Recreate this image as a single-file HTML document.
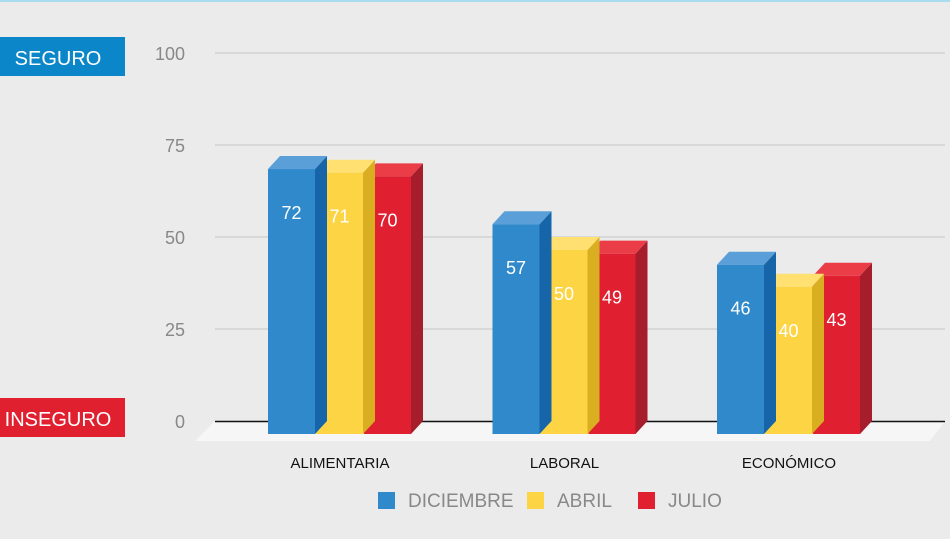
<!DOCTYPE html>
<html><head><meta charset="utf-8"><style>
body{margin:0;width:950px;height:534px;background:#ebebeb;overflow:hidden;font-family:"Liberation Sans",sans-serif}
</style></head><body>
<svg width="950" height="534">
<rect x="0" y="0" width="950" height="2" fill="#a8dcef"/>
<g id="grid"></g>
<polygon points="215,421 945,421 930,441 195,441" fill="#f6f6f6"/>
<line x1="215" y1="421.5" x2="945" y2="421.5" stroke="#111" stroke-width="1.5"/>
<g id="bars"></g>
<g id="cats"></g>
<rect x="0" y="37" width="125" height="39" fill="#0a86c9"/>
<text x="58" y="65" font-size="20" fill="#fff" text-anchor="middle" font-family="Liberation Sans Narrow, Liberation Sans, sans-serif">SEGURO</text>
<rect x="0" y="398" width="125" height="39" fill="#e0202f"/>
<text x="58" y="426" font-size="20" fill="#fff" text-anchor="middle" font-family="Liberation Sans Narrow, Liberation Sans, sans-serif">INSEGURO</text>
<g id="legend"></g>
</svg>
<script>
const categories=["ALIMENTARIA","LABORAL","ECONÓMICO"];
const seriesNames=["DICIEMBRE","ABRIL","JULIO"];
const diciembre=[72,57,46];
const abril=[71,50,40];
const julio=[70,49,43];
const ticks=[0,25,50,75,100];
const ns="http://www.w3.org/2000/svg";
function mk(t,a,p){const e=document.createElementNS(ns,t);for(const k in a)e.setAttribute(k,a[k]);p.appendChild(e);return e;}
const yG=v=>421-v*3.68, yB=v=>434-v*3.68;
const gx=i=>268+i*224.5;
const grid=document.getElementById('grid');
ticks.forEach(t=>{
 if(t>0){const l=mk('line',{x1:215,x2:945,y1:yG(t),y2:yG(t),stroke:'#c4c4c4','stroke-width':1},grid);
 }
 const tx=mk('text',{x:185,y:yG(t)+7,'font-size':18,fill:'#888','text-anchor':'end'},grid);tx.textContent=t;
 
});
const cols=[["#2f89cb","#5a9fd8","#1565a8"],["#fdd443","#ffe070","#d9ae20"],["#e01f31","#ea3d48","#a61d2c"]];
const series=[diciembre,abril,julio];
const bars=document.getElementById('bars');
const W=47,dx=12,dy=13;
categories.forEach((c,i)=>{
 for(let s=2;s>=0;s--){
  const v=series[s][i],x=gx(i)+s*48,top=yB(v),bot=434;
  const g=mk('g',{},bars);
  mk('polygon',{points:`${x+W},${top} ${x+W+dx},${top-dy} ${x+W+dx},${bot-dy} ${x+W},${bot}`,fill:cols[s][2]},g);
  mk('polygon',{points:`${x},${top} ${x+dx},${top-dy} ${x+W+dx},${top-dy} ${x+W},${top}`,fill:cols[s][1]},g);
  mk('rect',{x:x,y:top,width:W,height:bot-top,fill:cols[s][0]},g);
  const t=mk('text',{x:x+W/2,y:top+50,'font-size':18,fill:'#fff','text-anchor':'middle'},g);t.textContent=v;
 }
 const ct=mk('text',{x:gx(i)+72,y:468,'font-size':15,fill:'#111','text-anchor':'middle'},document.getElementById('cats'));ct.textContent=c;
 
});
const lg=document.getElementById('legend');const lx=[378,527,638];
seriesNames.forEach((n,s)=>{
 const g=mk('g',{},lg);
 mk('rect',{x:lx[s],y:492,width:17,height:17,fill:cols[s][0]},g);
 const t=mk('text',{x:lx[s]+30,y:507,'font-size':19,fill:'#888'},g);t.textContent=n;
});
</script>
</body></html>
